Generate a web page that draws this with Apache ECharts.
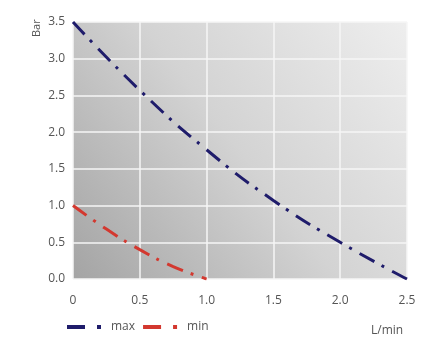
<!DOCTYPE html>
<html>
<head>
<meta charset="utf-8">
<script src="https://cdn.jsdelivr.net/npm/echarts@6/dist/echarts.min.js"></script>
<style>
  html, body { margin: 0; padding: 0; background: #fff; }
  #chart { width: 433px; height: 351px; }
</style>
</head>
<body>
<div id="chart"></div>
<script>
// flow (L/min) vs pressure (Bar)
const maxFlow = [0, 0.5, 1.0, 1.5, 2.0, 2.5];
const maxBar = [3.5, 2.57, 1.76, 1.07, 0.5, 0];
const minFlow = [0, 0.25, 0.5, 0.75, 1.0];
const minBar = [1.0, 0.68, 0.4, 0.17, 0];
const xTicks = [0, 0.5, 1.0, 1.5, 2.0, 2.5];
const yTicks = [0, 0.5, 1.0, 1.5, 2.0, 2.5, 3.0, 3.5];

function pairs(xs, ys) {
    return xs.map(function (x, i) { return [x, ys[i]]; });
}

const font = '"Open Sans", "Noto Sans", sans-serif';
const dashDot = [17, 8, 3, 9];
// legend icon: long dash + dot
const legendIcon = 'path://M0,0H18V4H0Z M30,0H34V4H30Z';

let myChart = echarts.init(document.getElementById('chart'));
myChart.setOption({
    animation: false,
    textStyle: { fontFamily: font },
    grid: {
        left: 73, right: 26, top: 22, bottom: 72,
        show: true,
        borderWidth: 0,
        backgroundColor: {
            type: 'linear', x: 0, y: 1, x2: 1, y2: 0,
            colorStops: [
                { offset: 0, color: '#a4a4a4' },
                { offset: 0.5, color: '#d3d3d3' },
                { offset: 1, color: '#eeeeee' }
            ]
        }
    },
    legend: {
        left: 62, top: 316,
        itemWidth: 34, itemHeight: 4, itemGap: 8,
        textStyle: { fontFamily: font, fontSize: 12, color: '#555', padding: [0, 0, 0, 5] },
        data: [
            { name: 'max', icon: legendIcon },
            { name: 'min', icon: legendIcon }
        ]
    },
    xAxis: {
        type: 'value',
        min: xTicks[0], max: xTicks[xTicks.length - 1], interval: 0.5,
        axisLine: { show: false },
        axisTick: { show: false },
        splitLine: { lineStyle: { color: '#f6f6f6', width: 1.5 } },
        axisLabel: {
            margin: 16, fontSize: 12, color: '#555', fontFamily: font,
            formatter: function (v) { return v === 0 ? '0' : v.toFixed(1); }
        },
        name: 'L/min',
        nameLocation: 'end',
        nameGap: -36,
        nameTextStyle: { fontSize: 12, color: '#555', fontFamily: font, verticalAlign: 'top', padding: [46, 0, 0, 0] }
    },
    yAxis: {
        type: 'value',
        min: yTicks[0], max: yTicks[yTicks.length - 1], interval: 0.5,
        axisLine: { show: false },
        axisTick: { show: false },
        splitLine: { lineStyle: { color: '#f6f6f6', width: 1.5 } },
        axisLabel: {
            margin: 8, fontSize: 12, color: '#555', fontFamily: font,
            formatter: function (v) { return v.toFixed(1); }
        }
    },
    graphic: [{
        type: 'text',
        x: 31, y: 37,
        rotation: Math.PI / 2,
        style: { text: 'Bar', fill: '#555', font: '11px ' + font }
    }],
    series: [
        {
            name: 'max',
            type: 'line',
            smooth: true,
            symbol: 'none',
            color: '#1f1c6b',
            lineStyle: { width: 3, type: dashDot, color: '#1f1c6b' },
            data: pairs(maxFlow, maxBar)
        },
        {
            name: 'min',
            type: 'line',
            smooth: true,
            symbol: 'none',
            color: '#d3382f',
            lineStyle: { width: 3, type: dashDot, color: '#d3382f' },
            data: pairs(minFlow, minBar)
        }
    ]
});
</script>
</body>
</html>
